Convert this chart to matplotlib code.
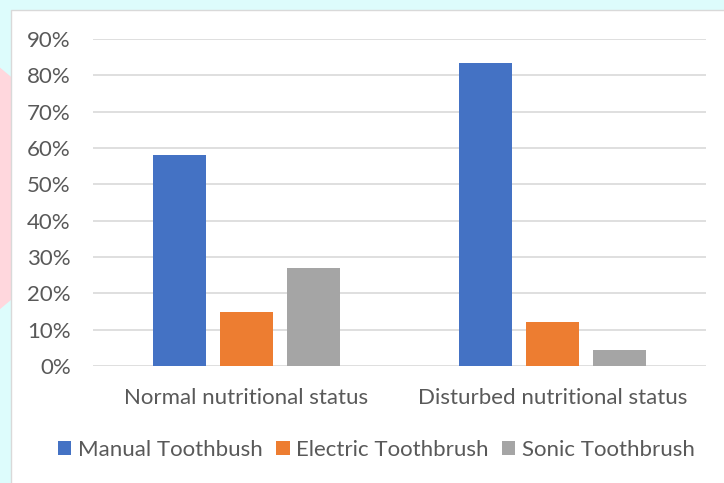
import matplotlib.pyplot as plt
from matplotlib.patches import Rectangle, Polygon
from matplotlib.ticker import PercentFormatter

# -----------------------------
# DATA
# -----------------------------

groups = ["Normal nutritional status", "Disturbed nutritional status"]
series = ["Manual Toothbush", "Electric Toothbrush", "Sonic Toothbrush"]
manual = [0.58, 0.835]
electric = [0.15, 0.12]
sonic = [0.27, 0.045]
colors = ["#4472C4", "#ED7D31", "#A5A5A5"]

plt.rcParams["font.family"] = ["Lato", "DejaVu Sans"]
text_col = "#595959"
fs = 16

# -----------------------------
# FIGURE + BACKDROP
# -----------------------------

fig = plt.figure(figsize=(7.24, 4.83), dpi=100)
fig.patch.set_facecolor("#DDFCFC")

# pink smear down the left edge
fig.patches.append(Polygon(
    [(0, 0.86), (0.016, 0.84), (0.016, 0.38), (0.0, 0.36)],
    closed=True, transform=fig.transFigure, facecolor="#FFD7DD",
    edgecolor="none", zorder=0))

# white chart card
fig.patches.append(Rectangle(
    (11 / 724, -0.01), 1.0, 1 - 10 / 483 + 0.01,
    transform=fig.transFigure, facecolor="white",
    edgecolor="#D9D9D9", linewidth=1.0, zorder=1))

ax = fig.add_axes([93 / 724, 1 - 366 / 483, 613 / 724, 327 / 483])
ax.set_facecolor("none")
ax.set_zorder(2)

# -----------------------------
# BARS
# -----------------------------

x = [0, 1]
w = 53 / 306
step = 67 / 306
for i, (vals, c) in enumerate(zip([manual, electric, sonic], colors)):
    pos = [xi + (i - 1) * step for xi in x]
    ax.bar(pos, vals, width=w, color=c, label=series[i], zorder=3)

ax.set_xlim(-0.5, 1.5)
ax.set_ylim(0, 0.9)
ax.set_yticks([i / 10 for i in range(10)])
ax.yaxis.set_major_formatter(PercentFormatter(1.0, decimals=0))
ax.grid(axis="y", color="#D9D9D9", linewidth=1.2, zorder=0)
ax.set_xticks(x)
ax.set_xticklabels(groups)
ax.tick_params(axis="both", length=0, labelsize=fs, colors=text_col)
ax.tick_params(axis="y", pad=16)
ax.tick_params(axis="x", pad=16)
for s in ax.spines.values():
    s.set_visible(False)

# -----------------------------
# LEGEND
# -----------------------------

leg = fig.legend(loc="center", bbox_to_anchor=(0.52, 1 - 450 / 483),
                 ncol=3, frameon=False, fontsize=fs,
                 handlelength=0.6, handleheight=0.6,
                 handletextpad=0.3, columnspacing=0.6)
leg.set_zorder(3)
for t in leg.get_texts():
    t.set_color(text_col)

plt.savefig("out.png", dpi=100, facecolor=fig.get_facecolor())
